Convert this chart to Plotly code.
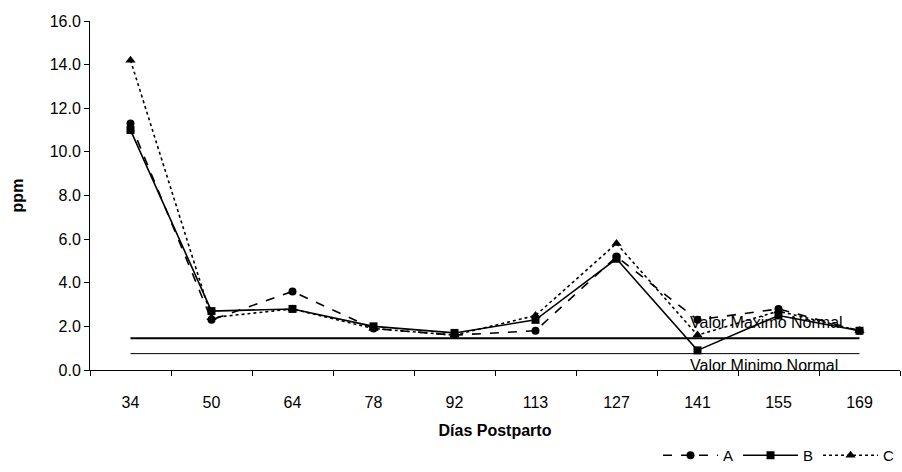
import plotly.graph_objects as go

dias = ["34", "50", "64", "78", "92", "113", "127", "141", "155", "169"]
serie_a = [11.3, 2.3, 3.6, 1.9, 1.6, 1.8, 5.2, 2.3, 2.8, 1.8]
serie_b = [11.0, 2.7, 2.8, 2.0, 1.7, 2.3, 5.1, 0.9, 2.5, 1.8]
serie_c = [14.2, 2.4, 2.8, 1.9, 1.6, 2.5, 5.8, 1.6, 2.7, 1.8]
valor_maximo = 1.45
valor_minimo = 0.75
y_ticks = [0, 2, 4, 6, 8, 10, 12, 14, 16]

FONT = "Liberation Sans, Arial, sans-serif"

fig = go.Figure()

fig.add_trace(go.Scatter(
    x=dias, y=[valor_maximo] * len(dias), mode="lines",
    line=dict(color="black", width=2), showlegend=False, hoverinfo="skip"))
fig.add_trace(go.Scatter(
    x=dias, y=[valor_minimo] * len(dias), mode="lines",
    line=dict(color="black", width=1), showlegend=False, hoverinfo="skip"))

fig.add_trace(go.Scatter(
    x=dias, y=serie_a, name="A", mode="lines+markers",
    line=dict(color="black", width=1.6, dash="dash"),
    marker=dict(symbol="circle", size=8, color="black")))
fig.add_trace(go.Scatter(
    x=dias, y=serie_b, name="B", mode="lines+markers",
    line=dict(color="black", width=1.6),
    marker=dict(symbol="square", size=8, color="black")))
fig.add_trace(go.Scatter(
    x=dias, y=serie_c, name="C", mode="lines+markers",
    line=dict(color="black", width=1.6, dash="dot"),
    marker=dict(symbol="triangle-up", size=9, color="black")))

idx_141 = dias.index("141")
fig.add_annotation(x=idx_141, y=valor_maximo, yshift=16, text="Valor Maximo Normal",
                   showarrow=False, xanchor="left", xshift=-10,
                   font=dict(family=FONT, size=16, color="black"))
fig.add_annotation(x=idx_141, y=valor_minimo, yshift=-12, text="Valor Minimo Normal",
                   showarrow=False, xanchor="left", xshift=-10,
                   font=dict(family=FONT, size=16, color="black"))

fig.update_layout(
    width=902, height=472,
    margin=dict(l=90, r=2, t=21, b=102, autoexpand=False),
    plot_bgcolor="white", paper_bgcolor="white",
    font=dict(family=FONT, size=15, color="black"),
    legend=dict(orientation="h", x=1, xanchor="right",
                yref="container", y=-0.01, yanchor="bottom",
                font=dict(size=15), itemwidth=55,
                bgcolor="rgba(0,0,0,0)"),
    xaxis=dict(
        type="category", categoryorder="array", categoryarray=dias,
        range=[-0.5, len(dias) - 0.5],
        showline=True, linecolor="black", linewidth=1,
        ticks="outside", tickson="boundaries", ticklen=5, tickcolor="black",
        showgrid=False, zeroline=False,
        tickfont=dict(size=16), ticklabelstandoff=18,
        title=dict(text="<b>Días Postparto</b>", font=dict(size=16), standoff=18)),
    yaxis=dict(
        range=[0, 16], tickvals=y_ticks, tickformat=".1f",
        showline=True, linecolor="black", linewidth=1,
        ticks="outside", ticklen=5, tickcolor="black",
        showgrid=False, zeroline=False,
        tickfont=dict(size=16),
        title=dict(text="<b>ppm</b>", font=dict(size=16), standoff=22)),
)

fig.write_html("out.html")
